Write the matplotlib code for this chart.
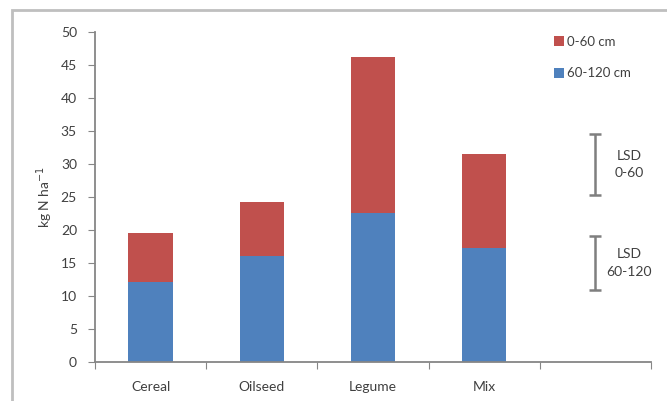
import matplotlib
matplotlib.use("Agg")
import matplotlib.pyplot as plt
from matplotlib.patches import Rectangle

plt.rcParams['font.family'] = ['Lato', 'DejaVu Sans']

categories = ["Cereal", "Oilseed", "Legume", "Mix"]
deep_60_120 = [12.1, 16.0, 22.5, 17.2]
top_0_60 = [7.5, 8.2, 23.7, 14.3]
series_labels = ["0-60 cm", "60-120 cm"]

lsd_labels = ["LSD\n0-60", "LSD\n60-120"]
lsd_centers = [29.9, 15.0]
lsd_values = [9.2, 8.2]

yticks = list(range(0, 51, 5))

red = "#C0504D"
blue = "#4F81BD"
axis_grey = "#868686"

fig = plt.figure(figsize=(6.67, 4.01), dpi=100)
ax = fig.add_axes([95 / 667, 39 / 401, 556 / 667, 330 / 401])

x = list(range(len(categories)))
ax.bar(x, deep_60_120, width=0.4, color=blue, label=series_labels[1], zorder=2)
ax.bar(x, top_0_60, width=0.4, bottom=deep_60_120, color=red,
       label=series_labels[0], zorder=2)

ax.set_xlim(-0.5, 4.5)
ax.set_ylim(0, 50)
ax.set_yticks(yticks)
ax.set_xticks([i - 0.5 for i in range(6)])
ax.set_xticklabels([])
ax.set_xticks(x, minor=True)
ax.set_xticklabels(categories, minor=True)
ax.tick_params(axis='x', which='minor', length=0, pad=14, labelsize=10,
               colors="#404040")
ax.tick_params(axis='x', which='major', length=5, color=axis_grey, direction='out')
ax.tick_params(axis='y', length=5, color=axis_grey, direction='out', labelsize=10,
               labelcolor="#404040", pad=8)

for side in ("top", "right"):
    ax.spines[side].set_visible(False)
for side in ("left", "bottom"):
    ax.spines[side].set_color(axis_grey)
    ax.spines[side].set_linewidth(1.3)

ax.set_ylabel(r"kg N ha$^{-1}$", fontsize=10, color="#404040", labelpad=4)

# LSD bars in the spare fifth category slot
for c, v, lab in zip(lsd_centers, lsd_values, lsd_labels):
    ax.errorbar(4, c, yerr=v / 2, fmt='none', ecolor="#7F7F7F", elinewidth=1.8,
                capsize=4, capthick=1.8, clip_on=False)
    ax.text(4.3, c, lab, ha='center', va='center', fontsize=10,
            color="#404040", linespacing=1.5)

handles, labels = ax.get_legend_handles_labels()
leg = ax.legend(handles[::-1], labels[::-1], loc='upper right',
                bbox_to_anchor=(0.985, 1.025), frameon=False, fontsize=9.5,
                handlelength=0.8, handleheight=0.8, handletextpad=0.2,
                labelspacing=1.5, labelcolor="#404040")

# Chart outer border
fig.patches.append(Rectangle((12 / 667, -0.1), 1.1, 1 - 10 / 401 + 0.1,
                             transform=fig.transFigure, fill=False,
                             edgecolor="#BFBFBF", linewidth=2))

fig.savefig("out.png", dpi=100)
